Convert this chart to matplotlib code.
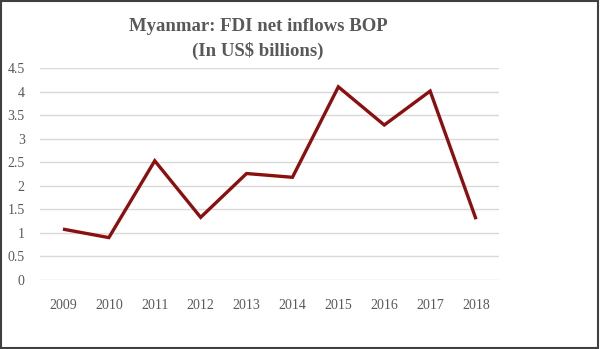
import matplotlib
matplotlib.use("Agg")
import matplotlib.pyplot as plt
from matplotlib.patches import Rectangle

years = ["2009", "2010", "2011", "2012", "2013", "2014", "2015", "2016", "2017", "2018"]
fdi = [1.08, 0.90, 2.53, 1.33, 2.26, 2.18, 4.10, 3.29, 4.01, 1.29]
yticks = [0, 0.5, 1, 1.5, 2, 2.5, 3, 3.5, 4, 4.5]
ylabels = ["0", "0.5", "1", "1.5", "2", "2.5", "3", "3.5", "4", "4.5"]

fig = plt.figure(figsize=(6.0, 3.49), dpi=100)
ax = fig.add_axes([40/600, 1 - 280/349, 459/600, 212/349])

x = list(range(len(years)))
ax.plot(x, fdi, color="#8B0F0F", linewidth=2.4, solid_joinstyle="miter", solid_capstyle="butt")
ax.set_xlim(-0.5, len(years) - 0.5)
ax.set_ylim(0, 4.5)
ax.set_yticks(yticks)
ax.set_yticklabels(ylabels)
ax.set_xticks(x)
ax.set_xticklabels(years)
ax.grid(axis="y", color="#D9D9D9", linewidth=1.0)
ax.set_axisbelow(True)
for s in ax.spines.values():
    s.set_visible(False)
ax.tick_params(length=0, colors="#595959", labelsize=10, pad=14)
ax.tick_params(axis="y", pad=11)
for lab in ax.get_xticklabels() + ax.get_yticklabels():
    lab.set_fontfamily("Liberation Serif")

fig.text(258/600, 1 - 39/349, "Myanmar: FDI net inflows BOP\n(In US$ billions)", ha="center", va="center",
         fontsize=13.5, fontweight="bold", color="#595959", family="Liberation Serif", linespacing=1.45)

fig.patches.append(Rectangle((0.002, 0.003), 0.995, 0.993, transform=fig.transFigure,
                             fill=False, edgecolor="#404040", linewidth=1.5))

fig.savefig("out.png", dpi=100, facecolor="white")
